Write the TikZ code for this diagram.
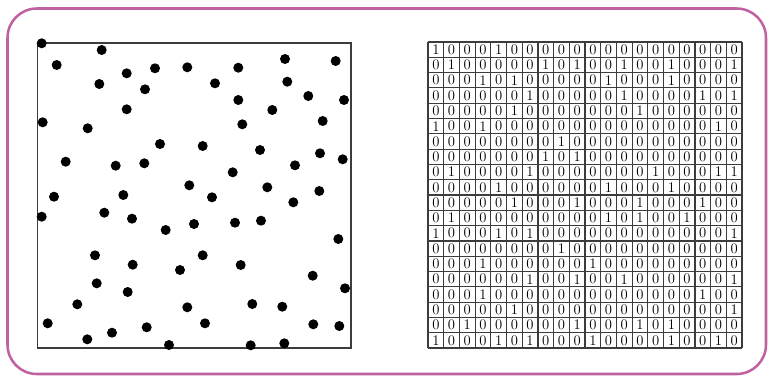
\documentclass[tikz,border=0pt]{standalone}
\usepackage{xcolor}
\usepackage{tikz}
\usetikzlibrary{positioning}
\definecolor{framepink}{RGB}{192, 98, 160}
\definecolor{linegray}{RGB}{60, 60, 60}

\begin{document}
\begin{tikzpicture}[x=0.75pt, y=-0.75pt, font=\fontsize{11}{11}\selectfont,
  dot/.style={fill=black},
  gridline/.style={linegray, line width=0.9pt},
  bit/.style={inner sep=0pt, anchor=center}]
\useasboundingbox (0,0) rectangle (771,378);
\draw[framepink, line width=1.9pt, rounded corners=22pt] (7.5,8.5) rectangle (766,374);

% scattered points
\draw[linegray, line width=0.9pt] (37.5,43) rectangle (351,348);
\foreach \px/\py in {41.7/43.3, 101.7/50, 56.7/65, 126.7/73.3, 155/68.3, 187.3/67.3,
  238.3/67.7, 285/59, 335.7/61, 99.3/84, 145/89.3, 215/83.3, 287.3/81.7, 308.3/96,
  344/100, 238.3/100, 272.3/110, 126.7/109.3, 42.7/122.3, 87.7/128.3, 242.3/124.3,
  322.7/121, 160/144, 202.7/146, 260/150, 320/153.3, 342.7/159.3, 65.7/161.7,
  115.7/165.7, 144.3/163.3, 295/165.3, 232.7/172.3, 189.3/185.3, 267.3/187.3,
  319.3/191, 54/196.7, 123.3/195, 212/197.3, 293.3/202.3, 41.7/216.7, 104.3/212.7,
  132/218.7, 165.7/230, 194/224, 235/222.7, 261/220.7, 338.3/239, 95/255.3,
  132.7/264.7, 180/270, 202.7/255.3, 240.7/265, 312.7/275.7, 345/288.3, 96.7/283.3,
  127.7/292, 77.3/304.3, 187.3/307.3, 252.3/304, 282.3/306.7, 47.7/323.3,
  146.7/327.3, 205/323.3, 313.3/324.3, 339.3/326, 87.3/339.3, 112/332.7,
  169/345, 250.7/345.3, 284.3/343.3}
  \fill[dot] (\px,\py) circle (5);

% binary grid
\foreach \row [count=\r] in {
  {1,0,0,0,1,0,0,0,0,0,0,0,0,0,0,0,0,0,0,0},
  {0,1,0,0,0,0,0,1,0,1,0,0,1,0,0,1,0,0,0,1},
  {0,0,0,1,0,1,0,0,0,0,0,1,0,0,0,1,0,0,0,0},
  {0,0,0,0,0,0,1,0,0,0,0,0,1,0,0,0,0,1,0,1},
  {0,0,0,0,0,1,0,0,0,0,0,0,0,1,0,0,0,0,0,0},
  {1,0,0,1,0,0,0,0,0,0,0,0,0,0,0,0,0,0,1,0},
  {0,0,0,0,0,0,0,0,1,0,0,0,0,0,0,0,0,0,0,0},
  {0,0,0,0,0,0,0,1,0,1,0,0,0,0,0,0,0,0,0,0},
  {0,1,0,0,0,0,1,0,0,0,0,0,0,0,1,0,0,0,1,1},
  {0,0,0,0,1,0,0,0,0,0,0,1,0,0,0,1,0,0,0,0},
  {0,0,0,0,0,1,0,0,0,1,0,0,0,1,0,0,0,1,0,0},
  {0,1,0,0,0,0,0,0,0,0,0,1,0,1,0,0,1,0,0,0},
  {1,0,0,0,1,0,1,0,0,0,0,0,0,0,0,0,0,0,0,1},
  {0,0,0,0,0,0,0,0,1,0,0,0,0,0,0,0,0,0,0,0},
  {0,0,0,1,0,0,0,0,0,0,1,0,0,0,0,0,0,0,0,0},
  {0,0,0,0,0,0,1,0,0,1,0,0,1,0,0,0,0,0,0,1},
  {0,0,0,1,0,0,0,0,0,0,0,0,0,0,0,0,0,1,0,0},
  {0,0,0,0,0,1,0,0,0,0,0,0,0,0,0,0,0,0,0,1},
  {0,0,1,0,0,0,0,0,0,1,0,0,0,1,0,1,0,0,0,0},
  {1,0,0,0,1,0,1,0,0,0,1,0,0,0,0,1,0,0,1,0}}
  \foreach \v [count=\c] in \row
    \node[bit] (b-\r-\c) at ({428+(\c-0.5)*15.7},{42+(\r-0.5)*15.3}) {\v};
\foreach \i in {0,...,20} {
  \draw[gridline] ({428+\i*15.7},42) -- ({428+\i*15.7},348);
  \draw[gridline] (428,{42+\i*15.3}) -- (742,{42+\i*15.3});
}
\end{tikzpicture}
\end{document}
